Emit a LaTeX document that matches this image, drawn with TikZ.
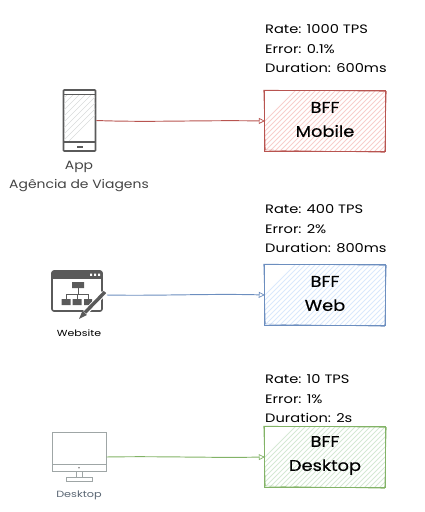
\documentclass[tikz,border=0pt]{standalone}
\usepackage{fontspec}
\setmainfont{Poppins}
\newfontfamily\bfffont[FakeBold=0.5,FakeStretch=1.15]{Poppins}
\newfontfamily\metricfont[FakeStretch=1.2]{Poppins}
\newfontfamily\appfont[FakeStretch=1.16]{Poppins}
\newfontfamily\smallfont[FakeStretch=1.25]{Poppins}
\usetikzlibrary{arrows.meta}
\definecolor{redS}{HTML}{B85450}\definecolor{redF}{HTML}{F8CECC}
\definecolor{bluS}{HTML}{6C8EBF}\definecolor{bluF}{HTML}{DAE8FC}
\definecolor{grnS}{HTML}{82B366}\definecolor{grnF}{HTML}{D5E8D4}
\definecolor{iconD}{HTML}{5A5A5A}\definecolor{iconG}{HTML}{9FA6A6}
\definecolor{labG}{HTML}{444444}\definecolor{labB}{HTML}{5A6673}
% hatched fill and doubled sketch outline of a named box
\newcommand{\sketchfill}[3]{%
  \begin{scope}
    \clip (#1.north west) rectangle (#1.south east);
    \foreach \k in {-100,-95,...,100}{\draw[#3,line width=.9pt] ([xshift=\k pt,yshift=-40pt]#1.center) -- ++(80pt,80pt);}
  \end{scope}
  \draw[#2,line width=.65pt] (#1.north west) rectangle (#1.south east);
  \draw[#2,line width=.35pt] ([shift={(-1.2pt,.8pt)}]#1.north west) -- ([shift={(1.2pt,-.6pt)}]#1.north east)
    -- ([shift={(-.6pt,-1.2pt)}]#1.south east) -- ([shift={(.6pt,1.2pt)}]#1.south west) -- cycle;
}
\tikzset{
  x=1pt,y=-1pt,
  bffbox/.style={minimum width=120pt,minimum height=60pt,inner sep=0pt},
  bfftext/.style={inner sep=0pt,align=center,text=black,font=\bfffont\fontsize{15.5}{24}\selectfont},
  metric/.style={anchor=west,inner sep=0pt,font=\metricfont\fontsize{12.2}{19.5}\selectfont,align=left,text=black},
  iconbox/.style={inner sep=0pt,minimum width=#1},
  flow/.style={line width=.95pt,-{Triangle[open,length=6pt,width=6pt,fill=white,line width=.7pt]}},
  iconlabel/.style={inner sep=0pt,align=center}
}
\begin{document}
\begin{tikzpicture}
\useasboundingbox (0,0) rectangle (425,512);
% boxes
\node[bffbox] (bffm) at (325,121) {};
\node[bffbox] (bffw) at (325,295) {};
\node[bffbox] (bffd) at (325,457) {};
\sketchfill{bffm}{redS}{redF}
\sketchfill{bffw}{bluS}{bluF}
\sketchfill{bffd}{grnS}{grnF}
\node[bfftext] (bffmt) at (325,119.5) {BFF\\Mobile};
\node[bfftext] (bffwt) at (325,293.5) {BFF\\Web};
\node[bfftext] (bffdt) at (325,455.5) {BFF\\Desktop};
% metrics
\node[metric] (m1) at (265,49) {Rate: 1000 TPS\\Error: 0.1\%\\Duration: 600ms};
\node[metric] (m2) at (265,229) {Rate: 400 TPS\\Error: 2\%\\Duration: 800ms};
\node[metric] (m3) at (265,399) {Rate: 10 TPS\\Error: 1\%\\Duration: 2s};
% phone
\node[iconbox=32pt,minimum height=61pt,draw=iconD,line width=1.7pt,rounded corners=.8pt] (phone) at (79.5,120.5) {};
\begin{scope}
  \clip (64,95) rectangle (95,142);
  \foreach \k in {-40,-34,...,70}{\draw[iconG!40,line width=.5pt] (\k,142) -- ++(50,-50);}
\end{scope}
\draw[iconD,line width=1.2pt] (63.5,94.5) -- (95.5,94.5) (63.5,142) -- (95.5,142);
\fill[iconD] (76.5,145.5) rectangle (82.5,147.5);
\node[iconlabel,text=labG,font=\appfont\fontsize{12}{19}\selectfont] (applab) at (79,176) {App\\Agência de Viagens};
% website
\node[iconbox=50pt,minimum height=40pt,draw=iconD,line width=1.6pt,rounded corners=2pt] (site) at (77,291) {};
\fill[iconD] (52,271) rectangle (102,278.5);
\fill[white] (90,273.6) rectangle +(2.2,2.2) (94,273.6) rectangle +(2.2,2.2) (98,273.6) rectangle +(2.2,2.2);
\fill[iconD] (72,282) rectangle (84,288) (61.5,299) rectangle (70.5,305) (72.5,299) rectangle (81.5,305) (84,299) rectangle (92,305);
\draw[iconD,line width=1pt] (78,288) -- (78,294) (66,299) -- (66,294) -- (88,294) -- (88,299) (77,294) -- (77,299);
\draw[white,line width=5.5pt] (104,293) -- (84,314);
\draw[iconD,line width=3.4pt] (105,292) -- (85,312.5);
\fill[iconD] (86.8,315) -- (82.6,310.5) -- (79,319) -- cycle;
\node[iconlabel,text=black,font=\smallfont\fontsize{8.8}{9}\selectfont] (sitelab) at (79,333) {Website};
% desktop
\node[iconbox=54pt,minimum height=39pt,draw=iconG,line width=1pt] (desk) at (79,451.5) {};
\draw[iconG,line width=1pt] (52,464) -- (106,464) (76,471) -- (76,477) (82,471) -- (82,477);
\draw[iconG,line width=1pt] (66,477) rectangle (92,481);
\fill[iconD!80] (79,467.7) circle (.9);
\node[iconlabel,text=labB,font=\smallfont\fontsize{9}{9}\selectfont] (desklab) at (79,495) {Desktop};
% connectors
\draw[flow,redS] (phone.east) .. controls (150,122.5) and (200,120) .. (bffm.west);
\draw[flow,bluS] ([shift={(4pt,-4pt)}]site.east) .. controls (160,296) and (210,293.5) .. (bffw.west);
\draw[flow,grnS] ([yshift=-5.5pt]desk.east) .. controls (160,456) and (210,458) .. (bffd.west);
\end{tikzpicture}
\end{document}
